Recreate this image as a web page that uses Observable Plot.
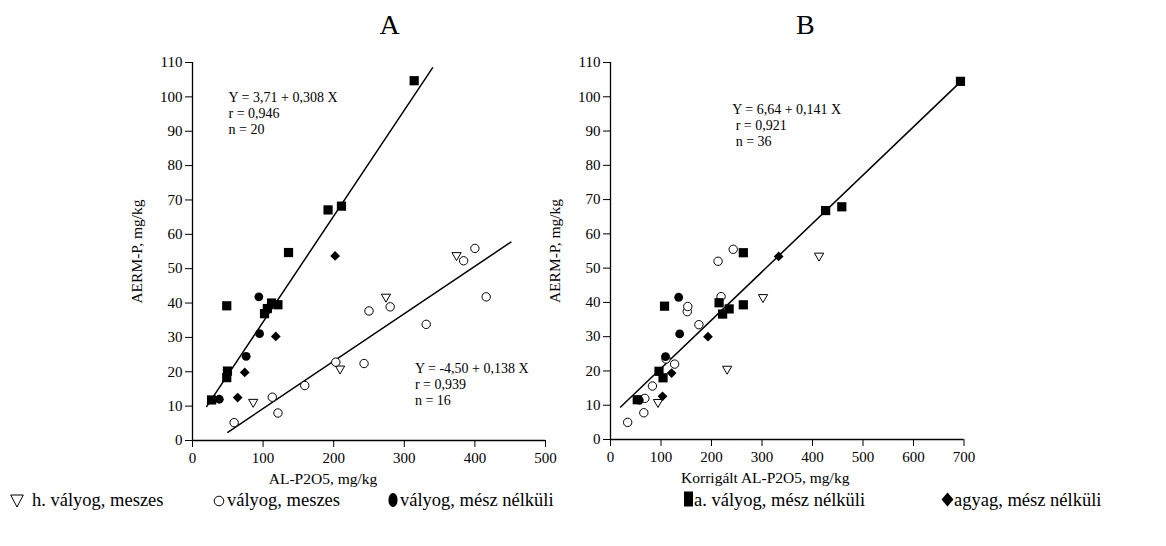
<!DOCTYPE html>
<html><head><meta charset="utf-8">
<script src="https://cdn.jsdelivr.net/npm/d3@7"></script>
<script src="https://cdn.jsdelivr.net/npm/@observablehq/plot@0.6"></script>
<style>
body{margin:0;background:#fff;}
#wrap{position:relative;width:1166px;height:546px;overflow:hidden;font-family:"Liberation Serif","Times New Roman",serif;color:#000;}
#pa{position:absolute;left:0;top:0}
#pb{position:absolute;left:500px;top:0}
.leg{position:absolute;top:489.5px;font-size:18.5px;line-height:20px;white-space:nowrap;}
.legsym{position:absolute;top:493px;}
</style></head><body>
<div id="wrap"><div id="pa"></div><div id="pb"></div><div id="legend"></div></div>
<script>
// ---------- data ----------
const groupNames = ["h. vályog, meszes", "vályog, meszes", "vályog, mész nélküli", "a. vályog, mész nélküli", "agyag, mész nélküli"];

// Panel A: AL-P2O5 (x) vs AERM-P (y)
const aTriX = [86, 209, 274, 374];
const aTriY = [11.2, 20.9, 41.8, 53.9];
const aOpenX = [59, 113, 121, 159, 203, 243, 250, 280, 331, 384, 400, 416];
const aOpenY = [5.2, 12.6, 8.0, 16.0, 22.8, 22.4, 37.7, 38.9, 33.8, 52.3, 55.9, 41.8];
const aCircX = [38, 76, 94, 95];
const aCircY = [12.0, 24.5, 41.8, 31.1];
const aSqX = [27, 48.5, 49.5, 48.5, 102, 106, 112, 121, 136, 192, 211, 314];
const aSqY = [11.8, 39.2, 20.2, 18.3, 36.9, 38.4, 40.0, 39.5, 54.7, 67.1, 68.2, 104.7];
const aDiaX = [64, 74, 118, 202];
const aDiaY = [12.5, 19.8, 30.3, 53.7];

// Panel B: Korrigált AL-P2O5 (x) vs AERM-P (y)
const bTriX = [94, 231, 302, 413];
const bTriY = [10.9, 20.6, 41.5, 53.6];
const bOpenX = [34, 66, 68, 83, 110, 127, 152, 153, 175, 213, 219, 243];
const bOpenY = [5.0, 7.8, 12.0, 15.6, 23.5, 22.0, 37.3, 38.8, 33.5, 52.0, 41.7, 55.5];
const bCircX = [57, 109, 137, 135];
const bCircY = [11.5, 24.2, 30.8, 41.5];
const bSqX = [53, 96, 104, 107, 215, 222, 235, 263, 263, 426, 458, 693];
const bSqY = [11.6, 19.9, 18.0, 38.9, 39.9, 36.6, 38.1, 39.3, 54.5, 66.8, 67.9, 104.5];
const bDiaX = [103, 121, 193, 333];
const bDiaY = [12.6, 19.4, 30.0, 53.4];

// regression lines: intercept, slope, x-extent
const fitA1 = [3.71, 0.308, 20, 340];
const fitA2 = [-4.50, 0.138, 50, 451];
const fitB = [6.64, 0.141, 20, 693];

// annotation texts and anchor (data units)
const annA1 = ["Y = 3,71 + 0,308 X\nr = 0,946\nn = 20", 51, 95.4];
const annA2 = ["Y = -4,50 + 0,138 X\nr = 0,939\nn = 16", 315, 16.5];
const annB = ["Y = 6,64 + 0,141 X\n r = 0,921\n n = 36", 241, 91.8];

const xTicksA = [0, 100, 200, 300, 400, 500];
const xTicksB = [0, 100, 200, 300, 400, 500, 600, 700];
const yTicks = [0, 10, 20, 30, 40, 50, 60, 70, 80, 90, 100, 110];
const titles = ["A", "B"];
const xLabels = ["AL-P2O5, mg/kg", "Korrigált AL-P2O5, mg/kg"];
const yLabel = "AERM-P, mg/kg";

// ---------- styling ----------
const downTriangle = {
  draw(ctx, size) {
    const r = Math.sqrt(size) * 0.6824, t = r / 2, u = r * Math.sqrt(3) / 2;
    ctx.moveTo(0, r); ctx.lineTo(u, -t); ctx.lineTo(-u, -t); ctx.closePath();
  }
};
const groupStyle = [
  {symbol: downTriangle, fill: "white", stroke: "black", strokeWidth: 1, r: 4.4},
  {symbol: "circle", fill: "white", stroke: "black", strokeWidth: 1, r: 4.2},
  {symbol: "circle", fill: "black", r: 4.4},
  {symbol: "square", fill: "black", r: 5.2},
  {symbol: "diamond2", fill: "black", r: 4.4}
];

function rows(xs, ys) { return xs.map((x, i) => ({x, y: ys[i]})); }
function fitLine(f) { return [{x: f[2], y: f[0] + f[1] * f[2]}, {x: f[3], y: f[0] + f[1] * f[3]}]; }

function panel(opts) {
  const {groups, fits, anns, xTicks, xDomain, width, marginLeft, marginRight, marginBottom, title, xLabel, titleDx, xLabelDx} = opts;
  const marks = [
    Plot.ruleX([0], {y1: 0, y2: 110, stroke: "black", strokeWidth: 1.3}),
    Plot.ruleY([0], {x1: 0, x2: xDomain[1], stroke: "black", strokeWidth: 1.3}),
    ...fits.map(f => Plot.line(fitLine(f), {x: "x", y: "y", stroke: "black", strokeWidth: 1.5})),
    ...groups.map((g, i) => Plot.dot(g, {x: "x", y: "y", ...groupStyle[i]})),
    ...anns.map(a => Plot.text([a], {x: d => d[1], y: d => d[2], text: d => d[0], textAnchor: "start", fontSize: 14, lineHeight: 1.16, fill: "black"})),
    Plot.text([title], {frameAnchor: "top", text: d => d, lineAnchor: "middle", textAnchor: "middle", dx: titleDx, dy: -37, fontSize: 28, fill: "black"}),
    Plot.text([xLabel], {frameAnchor: "bottom", text: d => d, lineAnchor: "middle", textAnchor: "middle", dx: xLabelDx, dy: 39, fontSize: 15.5, fill: "black"}),
    Plot.text([yLabel], {frameAnchor: "left", text: d => d, lineAnchor: "middle", textAnchor: "middle", dx: -55, rotate: -90, fontSize: 15.5, fill: "black"})
  ];
  return Plot.plot({
    width, height: 490,
    marginLeft, marginRight, marginTop: 62, marginBottom,
    style: {fontFamily: "Liberation Serif", fontSize: "15px", color: "black", background: "transparent", overflow: "visible"},
    x: {domain: xDomain, ticks: xTicks, tickSize: 7, tickPadding: 5, label: null},
    y: {domain: [0, 110], ticks: yTicks, tickSize: 7, tickPadding: 3, label: null},
    marks
  });
}

const groupsA = [rows(aTriX, aTriY), rows(aOpenX, aOpenY), rows(aCircX, aCircY), rows(aSqX, aSqY), rows(aDiaX, aDiaY)];
const groupsB = [rows(bTriX, bTriY), rows(bOpenX, bOpenY), rows(bCircX, bCircY), rows(bSqX, bSqY), rows(bDiaX, bDiaY)];

document.getElementById("pa").append(panel({
  groups: groupsA, fits: [fitA1, fitA2], anns: [annA1, annA2], xTicks: xTicksA, xDomain: [0, 500],
  width: 583, marginLeft: 192, marginRight: 38, marginBottom: 50,
  title: titles[0], xLabel: xLabels[0], titleDx: 20.5, xLabelDx: -46
}));
document.getElementById("pb").append(panel({
  groups: groupsB, fits: [fitB], anns: [annB], xTicks: xTicksB, xDomain: [0, 700],
  width: 666, marginLeft: 110, marginRight: 202.5, marginBottom: 51,
  title: titles[1], xLabel: xLabels[1], titleDx: 18, xLabelDx: -22
}));

// ---------- legend ----------
const legSymbols = [
  '<svg width="14" height="14"><path d="M0.7,1 L13.3,1 L7,13 Z" fill="none" stroke="black" stroke-width="1"/></svg>',
  '<svg width="12" height="14"><circle cx="6" cy="7" r="4.8" fill="none" stroke="black" stroke-width="1"/></svg>',
  '<svg width="10" height="16"><ellipse cx="5" cy="8" rx="4.6" ry="7" fill="black"/></svg>',
  '<svg width="10" height="16"><rect x="0" y="0.5" width="9" height="15" fill="black"/></svg>',
  '<svg width="13" height="15"><path d="M6.5,0.5 L12.5,7.5 L6.5,14.5 L0.5,7.5 Z" fill="black"/></svg>'
];
const legSymLeft = [10, 213, 388, 684, 941];
const legSymTop = [494, 494, 492, 491, 492];
const legTextLeft = [32, 227, 400, 694, 954];
const legend = document.getElementById("legend");
groupNames.forEach((name, i) => {
  const s = document.createElement("div");
  s.className = "legsym"; s.style.left = legSymLeft[i] + "px"; s.style.top = legSymTop[i] + "px";
  s.innerHTML = legSymbols[i];
  legend.append(s);
  const t = document.createElement("div");
  t.className = "leg"; t.style.left = legTextLeft[i] + "px";
  t.textContent = name;
  legend.append(t);
});
</script>
</body></html>
